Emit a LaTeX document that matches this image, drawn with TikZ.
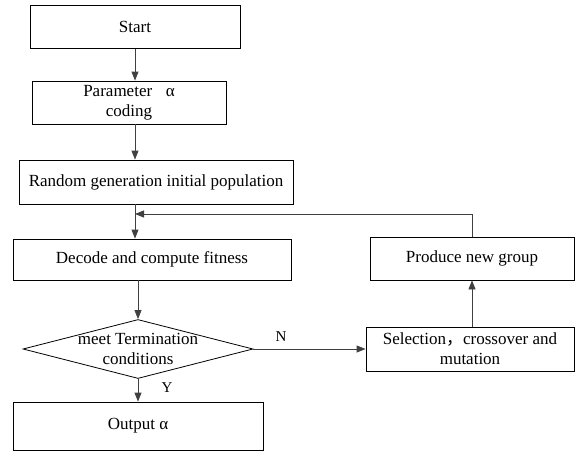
\documentclass[tikz,border=0pt]{standalone}
\usepackage{fontspec}
\setmainfont{Liberation Serif}
\newfontfamily\cjkfont{Noto Sans CJK SC}
\usetikzlibrary{arrows.meta,shapes.geometric,positioning}

\begin{document}
\begin{tikzpicture}[x=1pt,y=-1pt,
  box/.style={draw,rectangle,line width=0.8pt,inner sep=0pt,align=center,font=\fontsize{17}{20}\selectfont},
  test/.style={draw,diamond,line width=0.8pt,inner sep=0pt,minimum width=230pt,minimum height=59pt},
  arr/.style={draw=black!75,line width=0.8pt,-{Triangle[length=9pt,width=7pt]}},
  lbl/.style={font=\fontsize{15}{18}\selectfont}]
\useasboundingbox (0,0) rectangle (576,455);
\node[box,minimum width=210pt,minimum height=43pt] (start) at (135,27) {Start};
\node[box,minimum width=194pt,minimum height=43pt] (param) at (129,102.5) {Parameter\hspace{0.8em}α\\coding};
\node[box,minimum width=274pt,minimum height=44pt] (random) at (156,182) {Random generation initial population};
\node[box,minimum width=278pt,minimum height=41pt] (decode) at (152,259.5) {Decode and compute fitness};
\node[test] (check) at (138,349) {};
\node[align=center,font=\fontsize{17}{20}\selectfont] (checktext) at (check) {meet Termination\\conditions};
\node[box,minimum width=250pt,minimum height=48pt] (output) at (138,426) {Output α};
\node[box,minimum width=208pt,minimum height=44pt] (select) at (470,349) {Selection{\cjkfont ，}crossover and\\mutation};
\node[box,minimum width=204pt,minimum height=43pt] (produce) at (472,258.5) {Produce new group};
\coordinate (loop) at (start.south |- 0,214);

\draw[arr] (start.south) -- (start.south |- param.north);
\draw[arr] (start.south |- param.south) -- (start.south |- random.north);
\draw[arr] (start.south |- random.south) -- (start.south |- decode.north);
\draw[arr] (check.north |- decode.south) -- (check.north);
\draw[arr] (check.south) -- (output.north);
\draw[arr] (check.east) -- (select.west);
\draw[arr] (produce.south |- select.north) -- (produce.south);
\draw[arr] (produce.north) -- (produce.north |- loop) -- (loop);
\node[lbl] (no) at (281,337) {N};
\node[lbl] (yes) at (167,388) {Y};
\end{tikzpicture}
\end{document}
